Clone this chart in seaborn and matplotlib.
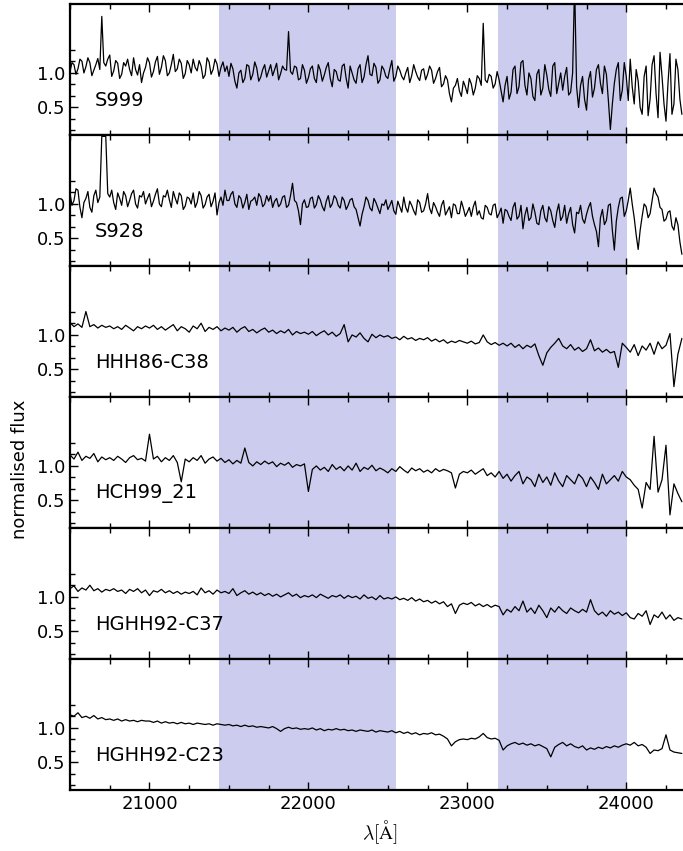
import numpy as np
import pandas as pd
import matplotlib
matplotlib.use("Agg")
import matplotlib.pyplot as plt
from matplotlib.ticker import MultipleLocator, FixedLocator
import seaborn as sns

# ---------------- data ----------------
wavelength = np.arange(20500, 24351, 25)       # 155 samples, Angstrom
wavelength_mid = np.arange(20512.5, 24340, 25)  # 154 half-step samples (noisy spectra)

names = ["S999", "S928", "HHH86-C38", "HCH99_21", "HGHH92-C37", "HGHH92-C23"]

flux_s999 = [
    1.02, 1.12, 1.06, 1.17, 1.09, 1.15, 1.04, 1.21, 1.82, 1.10,
    1.26, 1.03, 1.14, 0.98, 1.10, 1.05, 1.22, 0.97, 0.86, 1.08,
    1.15, 1.02, 1.24, 1.08, 1.18, 1.00, 1.27, 1.06, 1.14, 0.99,
    1.12, 1.20, 1.03, 1.10, 0.97, 1.16, 1.05, 1.13, 1.08, 1.02,
    0.95, 1.06, 0.78, 1.04, 0.92, 1.10, 0.98, 1.07, 0.94, 1.12,
    1.03, 0.96, 1.14, 0.99, 1.05, 1.60, 0.98, 1.08, 0.92, 1.04,
    0.93, 1.10, 0.86, 1.04, 0.97, 1.15, 0.80, 1.02, 0.88, 1.13,
    0.78, 1.00, 0.85, 1.12, 0.94, 1.25, 0.96, 1.08, 0.90, 1.05,
    0.92, 1.18, 0.95, 1.04, 0.90, 1.08, 0.96, 1.02, 0.89, 1.06,
    0.98, 1.04, 0.92, 1.08, 0.84, 0.90, 0.58, 0.82, 0.74, 0.88,
    0.70, 0.84, 0.78, 0.92, 1.72, 0.86, 0.95, 0.84, 0.90, 0.58,
    0.95, 0.72, 1.10, 0.80, 1.18, 0.68, 0.92, 0.60, 1.05, 0.78,
    0.97, 0.66, 1.15, 0.85, 0.75, 1.08, 0.72, 2.30, 0.50, 0.95,
    0.46, 1.02, 0.78, 1.12, 0.70, 0.98, 0.18, 0.85, 1.15, 0.75,
    0.95, 1.20, 0.55, 0.88, 0.40, 1.10, 0.62, 1.25, 0.35, 0.95,
    0.30, 1.28, 0.55, 1.05, 0.40,
]
flux_s999_mid = [
    1.15, 0.98, 1.20, 1.00, 1.22, 0.96, 1.12, 1.05, 1.15, 1.20,
    0.95, 1.18, 0.92, 1.15, 1.20, 0.96, 1.05, 1.12, 1.00, 1.22,
    0.94, 1.16, 0.98, 1.25, 0.96, 1.12, 1.02, 1.20, 0.92, 1.18,
    1.00, 1.08, 1.18, 0.92, 1.22, 0.98, 1.20, 0.95, 1.16, 1.10,
    1.14, 0.88, 1.00, 0.86, 1.12, 0.90, 1.16, 0.88, 1.05, 0.94,
    1.12, 1.05, 0.90, 1.10, 1.04, 1.02, 1.10, 0.90, 1.12, 0.85,
    1.06, 0.92, 1.12, 0.88, 1.08, 0.92, 1.05, 0.90, 1.10, 0.92,
    1.10, 0.90, 1.06, 0.86, 1.12, 0.98, 1.14, 0.85, 1.10, 0.95,
    1.06, 0.88, 1.10, 0.95, 1.00, 0.86, 1.12, 0.94, 1.04, 0.90,
    1.10, 0.85, 1.02, 0.80, 0.96, 0.70, 0.78, 0.92, 0.66, 0.80,
    0.92, 0.68, 0.96, 0.82, 0.90, 0.98, 0.78, 1.02, 0.74, 0.82,
    0.62, 1.05, 0.70, 1.15, 0.82, 1.00, 0.66, 0.98, 0.68, 1.12,
    0.76, 1.10, 0.70, 1.00, 0.95, 0.68, 1.00, 0.80, 0.82, 0.62,
    0.90, 0.65, 1.05, 0.85, 1.10, 0.60, 0.55, 1.05, 0.60, 1.15,
    0.60, 0.80, 1.05, 0.50, 0.95, 0.38, 1.12, 0.70, 1.30, 0.55,
    0.85, 0.40, 1.20, 0.62,
]

flux_s928 = [
    1.15, 1.05, 1.20, 0.80, 1.08, 0.95, 1.12, 1.02, 1.98, 1.98,
    1.10, 1.02, 1.16, 0.98, 1.12, 1.05, 1.20, 0.94, 1.10, 1.00,
    1.15, 1.04, 1.22, 0.96, 1.10, 1.06, 1.18, 1.00, 1.12, 0.97,
    1.08, 1.16, 1.02, 1.12, 0.99, 1.14, 1.04, 0.84, 1.10, 1.20,
    1.05, 1.18, 0.95, 1.08, 1.02, 0.92, 1.06, 0.98, 1.10, 1.00,
    1.04, 0.95, 1.08, 1.00, 1.12, 0.98, 1.30, 1.02, 0.70, 1.06,
    0.96, 1.10, 0.99, 1.06, 0.90, 1.12, 1.00, 1.08, 0.94, 1.05,
    0.98, 1.08, 0.92, 0.68, 0.96, 1.05, 0.90, 1.02, 0.86, 0.98,
    0.92, 1.05, 0.85, 0.96, 1.10, 0.88, 0.98, 0.84, 1.02, 0.90,
    1.15, 0.86, 0.96, 0.82, 1.05, 0.90, 0.80, 0.98, 0.86, 0.94,
    0.88, 0.82, 1.04, 0.90, 0.78, 0.95, 0.84, 1.00, 0.86, 0.72,
    0.90, 0.76, 1.02, 0.82, 0.64, 0.95, 0.80, 0.88, 0.70, 0.98,
    0.74, 0.90, 0.66, 1.00, 0.82, 0.72, 0.95, 0.58, 0.86, 0.78,
    0.85, 1.02, 0.70, 0.38, 0.92, 0.76, 1.00, 0.33, 0.95, 1.10,
    0.90, 1.23, 0.80, 0.34, 0.82, 0.96, 0.86, 1.23, 1.10, 0.92,
    0.78, 0.90, 0.62, 0.70, 0.27,
]
flux_s928_mid = [
    0.98, 1.22, 0.95, 1.02, 1.18, 0.88, 1.20, 1.10, 1.98, 1.15,
    1.20, 0.92, 1.08, 1.18, 0.96, 1.15, 1.00, 1.12, 1.18, 1.08,
    0.96, 1.14, 1.00, 1.12, 1.20, 0.95, 1.08, 1.16, 0.92, 1.10,
    1.00, 0.95, 1.18, 0.94, 1.10, 0.96, 1.16, 1.02, 0.98, 1.05,
    1.14, 1.00, 1.12, 0.94, 1.14, 1.04, 1.10, 1.15, 0.96, 1.12,
    1.12, 1.04, 0.96, 1.10, 0.95, 1.12, 1.05, 0.90, 1.00, 0.95,
    1.08, 0.94, 1.12, 0.96, 1.04, 0.95, 1.12, 0.98, 1.10, 0.92,
    1.06, 0.96, 0.80, 0.85, 1.10, 0.94, 1.08, 0.94, 1.00, 1.06,
    0.98, 0.90, 1.04, 0.88, 0.95, 1.04, 0.90, 1.06, 0.88, 1.00,
    0.94, 1.02, 0.88, 0.98, 0.84, 0.96, 1.00, 0.86, 1.04, 0.82,
    0.95, 0.96, 0.84, 0.80, 0.98, 0.86, 0.98, 0.80, 0.94, 0.92,
    0.82, 0.95, 0.78, 0.98, 0.84, 0.76, 1.00, 0.72, 0.90, 0.80,
    0.96, 0.76, 0.88, 0.76, 0.98, 0.86, 0.70, 0.88, 0.98, 0.72,
    0.95, 0.82, 0.60, 0.80, 0.70, 0.98, 0.62, 0.75, 1.08, 0.82,
    1.05, 1.00, 0.55, 0.62, 1.00, 0.80, 1.05, 1.15, 0.95, 0.75,
    0.88, 0.68, 0.80, 0.45,
]

flux_c38 = [
    1.18, 1.12, 1.16, 1.11, 1.34, 1.12, 1.15, 1.10, 1.14, 1.11,
    1.13, 1.09, 1.12, 1.08, 1.14, 1.10, 1.06, 1.12, 1.09, 1.13,
    1.10, 1.14, 1.08, 1.12, 1.07, 1.11, 1.15, 1.06, 1.12, 1.09,
    1.04, 1.13, 1.09, 1.17, 1.05, 1.11, 1.08, 1.12, 1.06, 1.10,
    1.07, 1.11, 1.04, 1.09, 1.12, 1.05, 1.08, 1.03, 1.07, 1.10,
    1.04, 1.07, 1.02, 1.06, 1.03, 1.08, 1.00, 1.05, 1.02, 1.04,
    1.01, 1.05, 0.99, 1.03, 1.06, 1.00, 1.04, 0.98, 1.02, 1.15,
    0.90, 1.00, 0.97, 1.03, 0.95, 0.90, 1.01, 0.96, 1.00, 0.97,
    0.99, 0.95, 0.97, 0.93, 0.98, 0.94, 0.96, 0.92, 0.95, 0.93,
    0.96, 0.91, 0.94, 0.90, 0.93, 0.88, 0.91, 0.89, 0.92, 0.90,
    0.88, 0.91, 0.87, 0.89, 1.00, 0.90, 0.86, 0.89, 0.85, 0.88,
    0.84, 0.88, 0.82, 0.86, 0.80, 0.85, 0.82, 0.87, 0.70, 0.56,
    0.74, 0.82, 0.88, 0.95, 0.84, 0.80, 0.86, 0.78, 0.82, 0.76,
    0.80, 0.93, 0.77, 0.81, 0.75, 0.79, 0.74, 0.76, 0.53, 0.88,
    0.82, 0.75, 0.86, 0.70, 0.84, 0.78, 0.88, 0.72, 0.90, 0.80,
    0.85, 1.02, 0.25, 0.72, 0.95,
]

flux_hch21 = [
    1.16, 1.10, 1.20, 1.08, 1.14, 1.11, 1.18, 1.06, 1.13, 1.09,
    1.12, 1.08, 1.14, 1.10, 1.05, 1.12, 1.15, 1.09, 1.11, 1.07,
    1.46, 1.10, 1.14, 1.06, 1.12, 1.08, 1.15, 1.05, 0.77, 1.10,
    1.06, 1.12, 1.08, 1.15, 1.04, 1.10, 1.13, 1.07, 1.11, 1.05,
    1.09, 1.03, 1.08, 1.04, 1.26, 1.05, 1.00, 1.06, 1.02, 1.07,
    1.03, 1.06, 0.99, 1.04, 1.01, 1.05, 0.98, 1.02, 1.00, 1.03,
    0.63, 0.95, 1.00, 0.94, 0.98, 0.92, 1.02, 0.95, 0.99, 0.93,
    1.00, 0.94, 1.04, 0.92, 0.98, 0.95, 1.01, 0.93, 0.97, 0.94,
    0.90, 0.96, 0.92, 0.99, 0.94, 0.90, 0.97, 0.93, 0.96, 0.91,
    0.94, 0.90, 0.96, 0.92, 0.95, 0.93, 0.90, 0.68, 0.88, 0.92,
    0.90, 0.94, 0.88, 0.92, 0.96, 0.86, 0.90, 0.84, 0.92, 0.82,
    0.88, 0.78, 0.86, 0.92, 0.74, 0.84, 0.80, 0.70, 0.88, 0.76,
    0.84, 0.72, 0.90, 0.78, 0.70, 0.86, 0.80, 0.74, 0.88, 0.82,
    0.70, 0.84, 0.76, 0.66, 0.88, 0.74, 0.80, 0.86, 0.78, 0.92,
    0.84, 0.80, 0.72, 0.66, 0.39, 0.76, 0.66, 1.43, 0.62, 0.80,
    1.30, 0.29, 0.74, 0.60, 0.48,
]

flux_c37 = [
    1.12, 1.16, 1.08, 1.13, 1.10, 1.17, 1.09, 1.12, 1.07, 1.11,
    1.09, 1.12, 1.08, 1.10, 1.05, 1.11, 1.08, 1.12, 1.06, 1.10,
    1.02, 1.09, 1.07, 1.11, 1.06, 1.09, 1.05, 1.08, 1.04, 1.07,
    1.05, 1.08, 1.03, 1.13, 1.06, 1.09, 1.04, 1.10, 1.06, 1.08,
    1.05, 1.12, 1.02, 1.06, 1.09, 1.04, 1.07, 1.03, 1.06, 1.02,
    1.05, 1.01, 1.04, 1.00, 1.03, 1.06, 1.01, 1.04, 0.99, 1.02,
    1.00, 1.03, 0.99, 1.04, 1.01, 0.98, 1.02, 1.00, 1.03, 0.98,
    1.02, 0.99, 1.01, 0.97, 1.03, 0.98, 1.00, 0.96, 1.02, 0.97,
    0.99, 0.97, 1.00, 0.96, 0.98, 0.95, 0.99, 0.94, 0.97, 0.93,
    0.95, 0.91, 0.94, 0.90, 0.93, 0.86, 0.90, 0.76, 0.88, 0.91,
    0.89, 0.92, 0.87, 0.90, 0.86, 0.89, 0.85, 0.88, 0.86, 0.74,
    0.82, 0.78, 0.86, 0.80, 0.94, 0.78, 0.84, 0.76, 0.88, 0.80,
    0.70, 0.84, 0.78, 0.86, 0.80, 0.76, 0.84, 0.80, 0.77, 0.82,
    0.78, 0.96, 0.80, 0.74, 0.78, 0.72, 0.80, 0.75, 0.78, 0.73,
    0.77, 0.70, 0.68, 0.76, 0.72, 0.80, 0.60, 0.74, 0.70, 0.78,
    0.68, 0.74, 0.66, 0.70, 0.68,
]

flux_c23 = [
    1.19, 1.17, 1.22, 1.15, 1.17, 1.14, 1.18, 1.13, 1.15, 1.12,
    1.13, 1.11, 1.13, 1.10, 1.12, 1.10, 1.11, 1.09, 1.11, 1.10,
    1.10, 1.08, 1.10, 1.07, 1.09, 1.07, 1.08, 1.06, 1.08, 1.06,
    1.07, 1.05, 1.07, 1.06, 1.05, 1.06, 1.04, 1.06, 1.05, 1.04,
    1.05, 1.03, 1.04, 1.02, 1.04, 1.02, 1.03, 1.01, 1.02, 1.01,
    1.00, 1.02, 0.99, 0.95, 0.99, 1.01, 0.99, 1.00, 0.98, 0.99,
    0.98, 1.00, 0.97, 0.99, 0.96, 0.98, 0.97, 0.99, 0.97, 0.98,
    0.96, 0.97, 0.95, 0.97, 0.96, 0.95, 0.97, 0.94, 0.96, 0.95,
    0.94, 0.96, 0.93, 0.95, 0.92, 0.94, 0.91, 0.93, 0.90, 0.92,
    0.91, 0.93, 0.90, 0.91, 0.88, 0.84, 0.74, 0.80, 0.83, 0.84,
    0.83, 0.85, 0.84, 0.87, 0.92, 0.86, 0.84, 0.85, 0.82, 0.68,
    0.74, 0.77, 0.79, 0.76, 0.78, 0.75, 0.77, 0.74, 0.76, 0.73,
    0.70, 0.58, 0.72, 0.76, 0.79, 0.74, 0.77, 0.73, 0.71, 0.74,
    0.68, 0.71, 0.69, 0.72, 0.70, 0.73, 0.71, 0.74, 0.72, 0.75,
    0.77, 0.75, 0.79, 0.74, 0.76, 0.72, 0.63, 0.68, 0.67, 0.70,
    0.90, 0.68, 0.65, 0.64, 0.63,
]

fluxes = [flux_s999, flux_s928, flux_c38, flux_hch21, flux_c37, flux_c23]
fluxes_mid = [flux_s999_mid, flux_s928_mid, None, None, None, None]

bands = [(21440, 22550), (23190, 24005)]
band_color = "#CCCCEE"

y_major = [0.5, 1.0]
y_major_labels = ["0.5", "1.0"]
y_minor = [1/6, 1/3, 2/3, 5/6, 7/6, 4/3]

# ---------------- plot ----------------
sns.set_style("ticks")
plt.rcParams["font.family"] = ["DejaVu Sans"]
plt.rcParams["mathtext.fontset"] = "cm"
plt.rcParams["text.color"] = "black"
plt.rcParams["axes.labelcolor"] = "black"
plt.rcParams["axes.edgecolor"] = "black"
plt.rcParams["xtick.color"] = "black"
plt.rcParams["ytick.color"] = "black"

fig = plt.figure(figsize=(6.83, 8.51), dpi=100)
axes = fig.subplots(6, 1, sharex=True)
fig.subplots_adjust(left=0.1025, right=1.01, top=0.9953, bottom=0.0717, hspace=0)

for ax, name, flux, fmid in zip(axes, names, fluxes, fluxes_mid):
    for lo, hi in bands:
        ax.axvspan(lo, hi, color=band_color, lw=0, zorder=0)
    if fmid is None:
        df = pd.DataFrame({"wavelength": wavelength, "flux": flux})
    else:
        df = pd.DataFrame({"wavelength": np.concatenate([wavelength, wavelength_mid]),
                           "flux": np.concatenate([flux, fmid])})
        df = df.sort_values("wavelength")
    sns.lineplot(data=df, x="wavelength", y="flux", ax=ax, color="black",
                 lw=0.9, estimator=None, sort=True, zorder=2)
    ax.text(20655, 0.6, name, fontsize=14, va="center", ha="left", color="black")
    ax.set_xlim(20500, 24400)
    ax.set_ylim(0.1, 2.0)
    ax.yaxis.set_major_locator(FixedLocator(y_major))
    ax.set_yticklabels(y_major_labels)
    ax.yaxis.set_minor_locator(FixedLocator(y_minor))
    ax.xaxis.set_major_locator(MultipleLocator(1000))
    ax.xaxis.set_minor_locator(MultipleLocator(250))
    ax.tick_params(which="both", direction="in", top=True, right=False,
                   labelsize=13, width=1, colors="black")
    ax.tick_params(which="major", length=6)
    ax.tick_params(which="minor", length=3.5)
    for sp in ax.spines.values():
        sp.set_linewidth(1.6)
        sp.set_color("black")
    ax.set_xlabel("")
    ax.set_ylabel("")

axes[-1].set_xlabel(r"$\lambda[\mathrm{\AA}]$", fontsize=14, color="black")
fig.text(0.029, 0.449, "normalised flux", rotation=90, va="center",
         ha="center", fontsize=13, color="black")

fig.savefig("out.png", dpi=100)
